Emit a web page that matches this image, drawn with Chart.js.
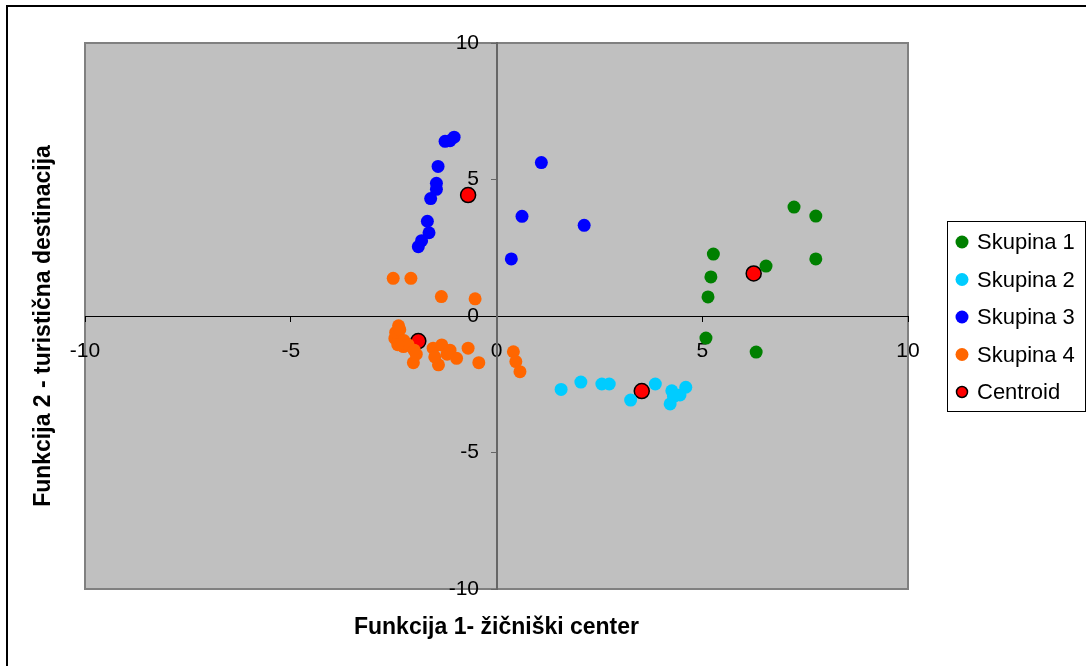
<!DOCTYPE html>
<html>
<head>
<meta charset="utf-8">
<script src="https://cdn.jsdelivr.net/npm/chart.js@4.4.1/dist/chart.umd.min.js"></script>
<style>
  html, body { margin: 0; padding: 0; background: #fff; }
  #chart { display: block; }
</style>
</head>
<body>
<canvas id="chart" width="1086" height="666"></canvas>
<script>
// values
const skupina1X = [7.23, 7.76, 7.76, 6.55, 5.27, 5.21, 5.14, 5.09, 6.31];
const skupina1Y = [3.99, 3.66, 2.09, 1.83, 2.27, 1.43, 0.70, -0.81, -1.32];

const skupina2X = [1.57, 2.05, 2.56, 2.74, 3.26, 3.86, 4.26, 4.22, 4.46, 4.60, 4.30];
const skupina2Y = [-2.69, -2.42, -2.49, -2.49, -3.08, -2.49, -2.74, -3.22, -2.89, -2.61, -2.95];

const skupina3X = [-1.03, -1.13, -1.25, -1.42, -1.46, -1.46, -1.60, -1.68, -1.64, -1.82, -1.90, 1.09, 0.62, 2.13, 0.36];
const skupina3Y = [6.55, 6.42, 6.40, 5.48, 4.86, 4.64, 4.30, 3.47, 3.05, 2.76, 2.54, 5.62, 3.65, 3.32, 2.09];

const skupina4X = [-2.51, -2.08, -1.34, -0.52, -2.38, -2.47, -2.26, -2.02, -1.54, -1.33, -1.13, -0.97, -1.41, -0.69, -0.43, 0.41, 0.47, 0.57, -2.45, -2.35, -2.25, -2.15, -2.40, -2.00, -1.95, -1.20, -1.50];
const skupina4Y = [1.38, 1.38, 0.71, 0.63, -0.36, -0.82, -1.12, -1.71, -1.18, -1.06, -1.25, -1.55, -1.79, -1.18, -1.71, -1.31, -1.67, -2.04, -0.60, -0.50, -0.90, -1.05, -1.05, -1.25, -1.40, -1.40, -1.50];

const centroidX = [6.25, 3.53, -0.69, -1.90];
const centroidY = [1.56, -2.75, 4.43, -0.92];

const seriesNames = ['Skupina 1', 'Skupina 2', 'Skupina 3', 'Skupina 4', 'Centroid'];
const seriesColors = ['#008000', '#00CCFF', '#0000FF', '#FF6600', '#FF0000'];

const axisMin = -10, axisMax = 10, axisStep = 5;
const xTitle = 'Funkcija 1- žičniški center';
const yTitle = 'Funkcija 2 - turistična destinacija';

const FONT = '"Liberation Sans", Arial, sans-serif';

function toPoints(xs, ys) {
  return xs.map((x, i) => ({ x: x, y: ys[i] }));
}

const allX = [skupina1X, skupina2X, skupina3X, skupina4X, centroidX];
const allY = [skupina1Y, skupina2Y, skupina3Y, skupina4Y, centroidY];

const datasets = seriesNames.map((name, i) => {
  const isCentroid = name === 'Centroid';
  return {
    label: name,
    data: toPoints(allX[i], allY[i]),
    backgroundColor: seriesColors[i],
    borderColor: isCentroid ? '#000000' : seriesColors[i],
    borderWidth: isCentroid ? 1.5 : 0,
    pointRadius: isCentroid ? 7.5 : 6.5,
    pointHoverRadius: isCentroid ? 7.5 : 6.5
  };
});

// grey plot area, outer frame, axis titles and the boxed legend
const decorations = {
  id: 'decorations',
  beforeDraw(chart) {
    const ctx = chart.ctx;
    const a = chart.chartArea;
    ctx.save();
    // outer frame (cut off on the right and bottom)
    ctx.strokeStyle = '#000';
    ctx.lineWidth = 2;
    ctx.strokeRect(7, 6, 1200, 800);
    ctx.fillStyle = '#C0C0C0';
    ctx.fillRect(a.left, a.top, a.right - a.left, a.bottom - a.top);
    ctx.strokeStyle = '#808080';
    ctx.lineWidth = 2;
    ctx.strokeRect(a.left, a.top, a.right - a.left, a.bottom - a.top);
    ctx.restore();
  },
  afterDraw(chart) {
    const ctx = chart.ctx;
    const a = chart.chartArea;
    ctx.save();
    ctx.fillStyle = '#000';
    ctx.font = 'bold 23px ' + FONT;
    ctx.textAlign = 'center';
    ctx.textBaseline = 'middle';
    ctx.fillText(xTitle, (a.left + a.right) / 2, 628);
    ctx.save();
    ctx.translate(44, (a.top + a.bottom) / 2 + 10);
    ctx.rotate(-Math.PI / 2);
    ctx.fillText(yTitle, 0, 0);
    ctx.restore();

    // legend
    const lx = 947, ly = 221, lw = 138, lh = 190;
    ctx.fillStyle = '#fff';
    ctx.fillRect(lx, ly, lw, lh);
    ctx.strokeStyle = '#000';
    ctx.lineWidth = 1;
    ctx.strokeRect(lx + 0.5, ly + 0.5, lw, lh);
    ctx.font = '22px ' + FONT;
    ctx.textAlign = 'left';
    chart.data.datasets.forEach((ds, i) => {
      const cy = 242 + i * 37.5;
      ctx.beginPath();
      ctx.arc(962, cy, ds.label === 'Centroid' ? 5.5 : 6.5, 0, Math.PI * 2);
      ctx.fillStyle = ds.backgroundColor;
      ctx.fill();
      if (ds.label === 'Centroid') {
        ctx.strokeStyle = '#000';
        ctx.lineWidth = 1.5;
        ctx.stroke();
      }
      ctx.fillStyle = '#000';
      ctx.fillText(ds.label, 977, cy + 1);
    });
    ctx.restore();
  }
};

const ctx = document.getElementById('chart').getContext('2d');
const myChart = new Chart(ctx, {
  type: 'scatter',
  data: { datasets: datasets },
  plugins: [decorations],
  options: {
    responsive: false,
    animation: false,
    devicePixelRatio: 1,
    layout: {
      padding: { left: 85, top: 43, right: 178, bottom: 77 }
    },
    plugins: {
      legend: { display: false },
      tooltip: { enabled: false }
    },
    scales: {
      x: {
        type: 'linear',
        position: { y: 0 },
        min: axisMin,
        max: axisMax,
        ticks: {
          stepSize: axisStep,
          color: '#000',
          font: { family: FONT, size: 21 },
          padding: 18,
          maxRotation: 0
        },
        grid: {
          drawOnChartArea: false,
          drawTicks: true,
          tickLength: 5,
          tickColor: '#000'
        },
        border: { color: '#000', width: 1 }
      },
      y: {
        type: 'linear',
        position: { x: 0 },
        min: axisMin,
        max: axisMax,
        ticks: {
          stepSize: axisStep,
          color: '#000',
          font: { family: FONT, size: 21 },
          // labels sit right on the centred axis, so pad them with spaces
          callback: (value) => value + '   '
        },
        grid: {
          drawOnChartArea: false,
          drawTicks: true,
          tickLength: 5,
          tickColor: '#666'
        },
        border: { color: '#666', width: 2 }
      }
    }
  }
});
</script>
</body>
</html>
